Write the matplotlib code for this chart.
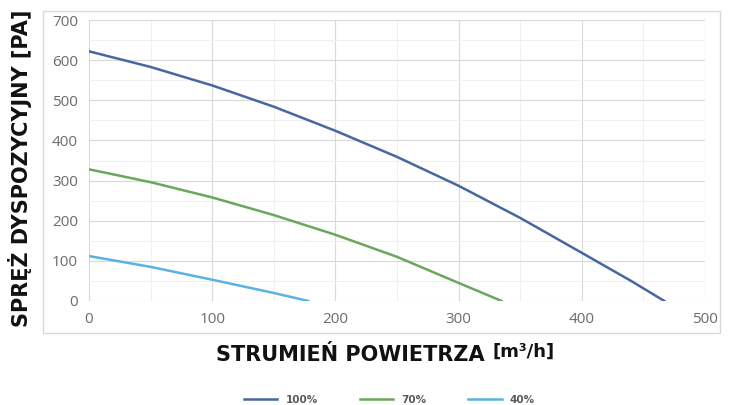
import matplotlib.pyplot as plt
from matplotlib.patches import Rectangle
from matplotlib.ticker import MultipleLocator

# fan curves: airflow [m3/h] vs available pressure [Pa]
flow_100 = [0, 50, 100, 150, 200, 250, 300, 350, 400, 440, 467]
pres_100 = [622, 583, 537, 484, 424, 359, 287, 207, 120, 50, 0]
flow_70 = [0, 50, 100, 150, 200, 250, 300, 335]
pres_70 = [328, 296, 258, 214, 165, 110, 45, 0]
flow_40 = [0, 50, 100, 150, 178]
pres_40 = [112, 85, 53, 20, 0]

labels = ['100%', '70%', '40%']
colors = ['#46679f', '#6aa75c', '#5ab2e2']

fig = plt.figure(figsize=(7.35, 4.05), dpi=100)
ax = fig.add_axes([89/735, 1-301/405, (705-89)/735, (301-20)/405])

ax.plot(flow_100, pres_100, c=colors[0], lw=1.8, label=labels[0])
ax.plot(flow_70, pres_70, c=colors[1], lw=1.8, label=labels[1])
ax.plot(flow_40, pres_40, c=colors[2], lw=1.8, label=labels[2])

ax.set_xlim(0, 500)
ax.set_ylim(0, 700)
ax.xaxis.set_major_locator(MultipleLocator(100))
ax.yaxis.set_major_locator(MultipleLocator(100))
ax.xaxis.set_minor_locator(MultipleLocator(50))
ax.yaxis.set_minor_locator(MultipleLocator(50))
ax.grid(which='major', color='#d9d9d9', lw=0.8)
ax.grid(which='minor', color='#f0f0f0', lw=0.7)
ax.set_axisbelow(True)
for s in ax.spines.values():
    s.set_visible(False)
ax.tick_params(which='both', length=0, labelsize=11, labelcolor='#6b6b6b', pad=8)
for t in ax.get_xticklabels() + ax.get_yticklabels():
    t.set_fontfamily('Open Sans')

# outer chart border
fig.patches.append(Rectangle((43/735, 1-333/405), (720-43)/735, (333-11)/405,
                             transform=fig.transFigure, fill=False,
                             ec='#d9d9d9', lw=1))

fig.text(20/735, 1-168/405, 'SPRĘŻ DYSPOZYCYJNY [PA]', rotation=90,
         ha='center', va='center', fontsize=15, fontweight='heavy',
         family='DejaVu Sans', color='#111111')
fig.text(485/735, 1-355/405, 'STRUMIEŃ POWIETRZA', ha='right', va='center',
         fontsize=15, fontweight='heavy', family='DejaVu Sans', color='#111111')
fig.text(493/735, 1-352/405, '[m³/h]', ha='left', va='center',
         fontsize=13, fontweight='bold', family='DejaVu Sans', color='#111111')

leg = fig.legend(loc='center', bbox_to_anchor=(0.53, 1-400/405), ncol=3,
                 frameon=False, handlelength=3.2, columnspacing=4.0,
                 prop={'size': 7.5, 'weight': 'bold', 'family': 'DejaVu Sans'})
for t in leg.get_texts():
    t.set_color('#595959')

fig.savefig('out.png', dpi=100)
